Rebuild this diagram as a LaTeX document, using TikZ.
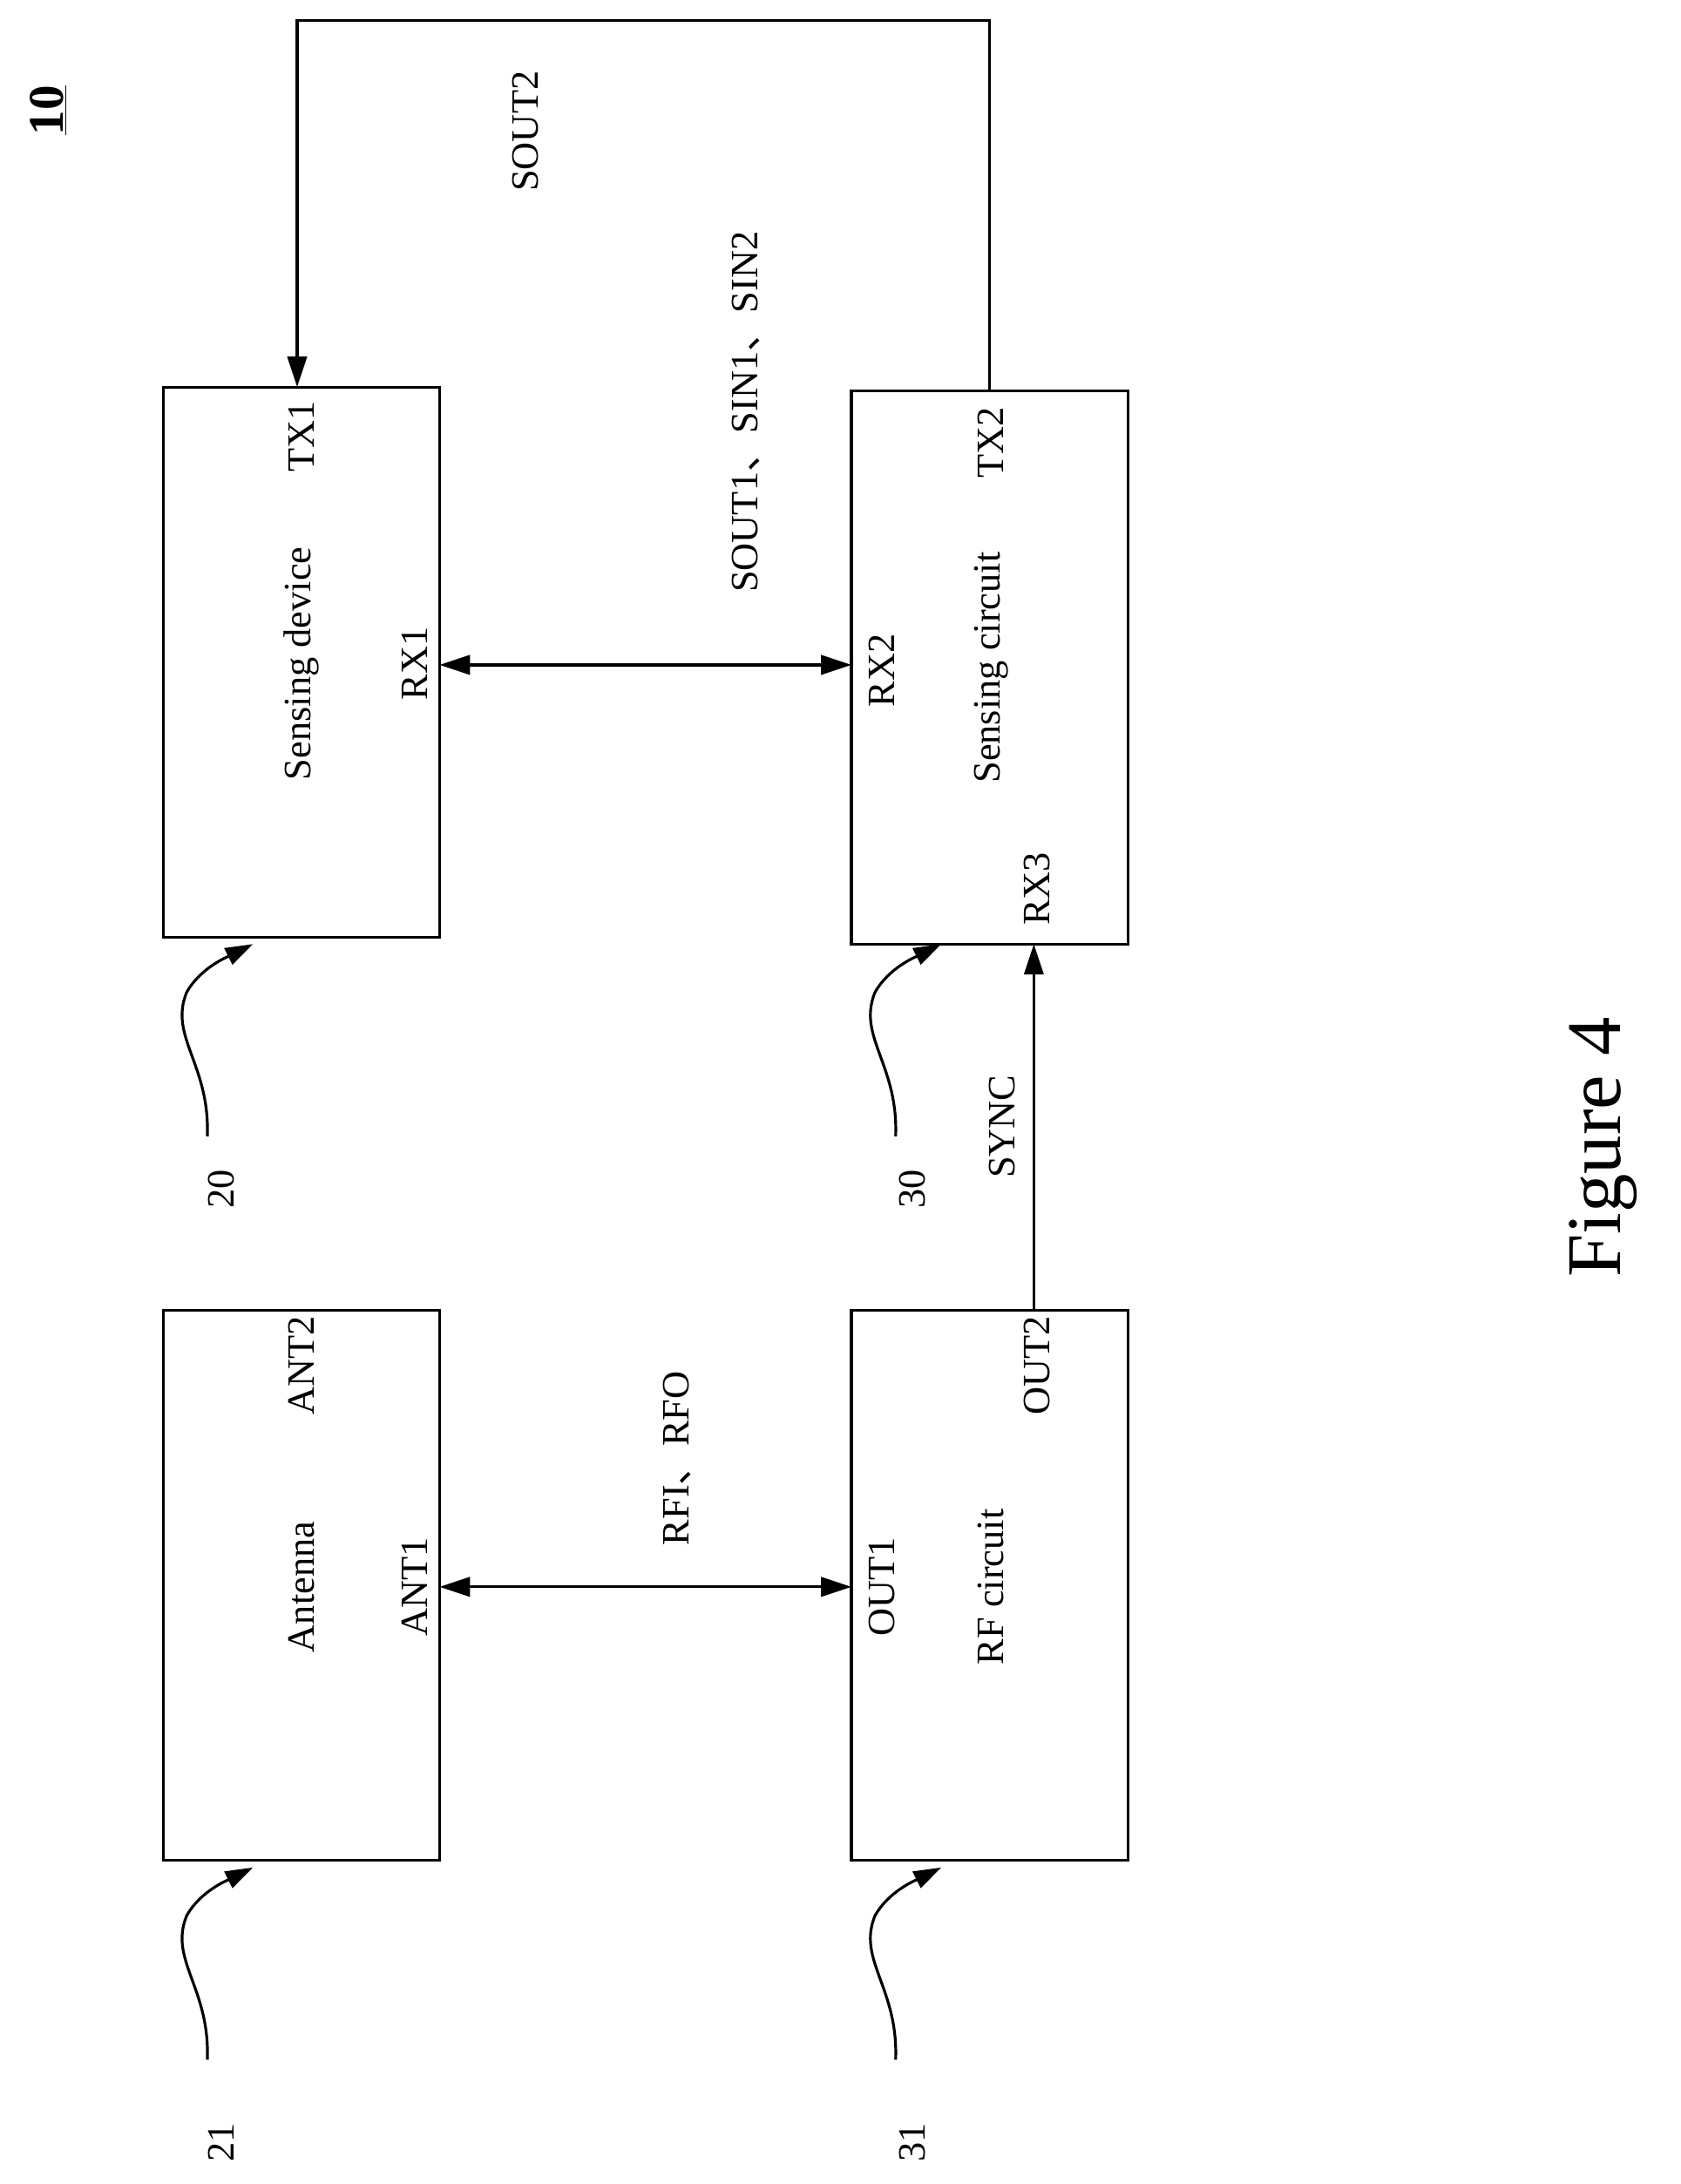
\documentclass[tikz,border=0pt]{standalone}
\usepackage{fontspec}
\setmainfont{Liberation Serif}
\newfontfamily\cjk{Noto Sans CJK SC}
\usetikzlibrary{arrows.meta}
\begin{document}
\begin{tikzpicture}[x=1pt,y=-1pt,
  box/.style={draw,line width=2pt},
  lbl/.style={rotate=90,font=\fontsize{28}{28}\selectfont,inner sep=0},
  conn/.style={line width=2pt},
  tip/.style={-{Triangle[length=22pt,width=14pt]}},
  dtip/.style={{Triangle[length=22pt,width=14pt]}-{Triangle[length=22pt,width=14pt]}},
  lead/.style={line width=2pt,-{Triangle[length=20pt,width=13pt]}}]
\useasboundingbox (0,0) rectangle (1216,1580);
\draw[box] (118,280) rectangle (318,678);
\draw[box] (616,283) rectangle (816,683);
\draw[box] (118,948) rectangle (318,1346);
\draw[box] (616,948) rectangle (816,1346);
\coordinate (rx1) at (318,481); \coordinate (rx2) at (616,481);
\coordinate (ant1) at (318,1148); \coordinate (out1) at (616,1148);
\coordinate (out2) at (748,948); \coordinate (rx3) at (748,683);
\coordinate (tx2) at (716,283); \coordinate (tx1) at (215,280);
\draw[conn,dtip] (rx1) -- (rx2);
\draw[conn,dtip] (ant1) -- (out1);
\draw[conn,tip] (out2) -- (rx3);
\draw[conn,tip] (tx2) -- (716,15) -- (215,15) -- (tx1);
\node[lbl] (sd) at (218,480) {Sensing device};
\node[lbl] (t1) at (218,316) {TX1};
\node[lbl] (r1) at (300,480) {RX1};
\node[lbl] (sc) at (717,483) {Sensing circuit};
\node[lbl] (r2) at (638,485) {RX2};
\node[lbl] (t2) at (717,320) {TX2};
\node[lbl] (r3) at (750,643) {RX3};
\node[lbl] (an) at (218,1148) {Antenna};
\node[lbl] (a1) at (300,1148) {ANT1};
\node[lbl] (a2) at (218,988) {ANT2};
\node[lbl] (rf) at (717,1148) {RF circuit};
\node[lbl] (o1) at (638,1148) {OUT1};
\node[lbl] (o2) at (750,988) {OUT2};
\node[lbl] (s2) at (380,95) {SOUT2};
\node[lbl] (s1) at (540,298) {SOUT1{\cjk 、}SIN1{\cjk 、}SIN2};
\node[lbl] (rfio) at (490,1055) {RFI{\cjk 、}RFO};
\node[lbl] (sy) at (725,815) {SYNC};
\node[lbl] (n20) at (160,860) {20};
\node[lbl] (n30) at (660,860) {30};
\node[lbl] (n21) at (160,1550) {21};
\node[lbl] (n31) at (660,1550) {31};
\node[rotate=90,font=\fontsize{36}{36}\selectfont\bfseries,inner sep=0] (n10) at (35,80) {\underline{10}};
\node[rotate=90,font=\fontsize{56}{56}\selectfont,inner sep=0] (fig) at (1160,830) {Figure 4};
\foreach \x/\y in {0/0,498/0,0/668,498/668}{
  \draw[lead] (150+\x,822+\y) .. controls (152+\x,770+\y) and (122+\x,750+\y) .. (135+\x,718+\y)
     .. controls (145+\x,700+\y) and (165+\x,692+\y) .. (183+\x,683+\y);
}
\end{tikzpicture}
\end{document}
